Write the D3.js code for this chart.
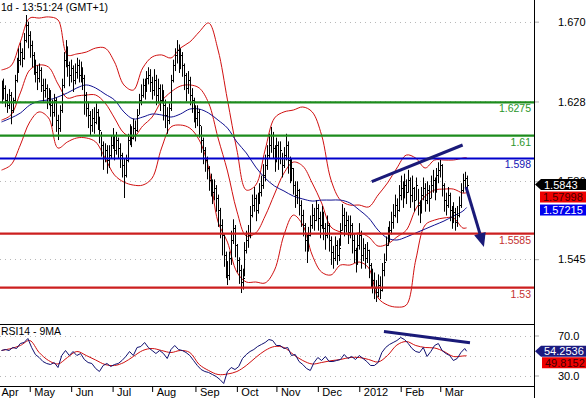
<!DOCTYPE html>
<html><head><meta charset="utf-8">
<script src="https://cdn.jsdelivr.net/npm/d3@7"></script>
<style>
html,body{margin:0;padding:0;background:#fff;}
svg{display:block;font-family:"Liberation Sans",Arial,sans-serif;}
</style></head><body>
<svg id="chart" width="586" height="398"></svg>
<script>
// ---------------- DATA ----------------
const closes = [
1.6314,1.6351,1.6288,1.6261,1.6314,1.6235,1.6288,1.6393,1.6456,1.6498,
1.6540,1.6509,1.6603,1.6682,1.6630,1.6577,1.6525,1.6488,1.6435,1.6403,
1.6446,1.6367,1.6340,1.6351,1.6298,1.6314,1.6261,1.6225,1.6288,1.6182,
1.6140,1.6235,1.6367,1.6498,1.6551,1.6472,1.6419,1.6456,1.6393,1.6435,
1.6472,1.6419,1.6446,1.6403,1.6314,1.6246,1.6209,1.6156,1.6193,1.6172,
1.6225,1.6182,1.6130,1.6051,1.5982,1.6025,1.5972,1.5998,1.6051,1.6088,
1.6025,1.6077,1.6035,1.5998,1.5946,1.5893,1.5972,1.6077,1.6119,1.6088,
1.6140,1.6130,1.6209,1.6288,1.6314,1.6367,1.6340,1.6403,1.6419,1.6382,
1.6340,1.6393,1.6314,1.6351,1.6288,1.6330,1.6261,1.6209,1.6182,1.6246,
1.6393,1.6472,1.6525,1.6551,1.6488,1.6525,1.6472,1.6419,1.6351,1.6393,
1.6314,1.6288,1.6235,1.6193,1.6225,1.6156,1.6077,1.6025,1.5972,1.5930,
1.5867,1.5840,1.5803,1.5825,1.5772,1.5709,1.5630,1.5577,1.5472,1.5419,
1.5367,1.5456,1.5551,1.5614,1.5525,1.5446,1.5393,1.5330,1.5351,1.5498,
1.5551,1.5577,1.5682,1.5735,1.5772,1.5709,1.5761,1.5803,1.5840,1.5893,
1.5946,1.5998,1.6051,1.6103,1.6035,1.5972,1.6051,1.5982,1.6025,1.5946,
1.5998,1.6051,1.5972,1.5919,1.5930,1.5840,1.5788,1.5814,1.5735,1.5682,
1.5630,1.5551,1.5509,1.5577,1.5630,1.5682,1.5656,1.5719,1.5667,1.5630,
1.5682,1.5614,1.5577,1.5630,1.5551,1.5488,1.5456,1.5525,1.5472,1.5509,
1.5603,1.5682,1.5630,1.5656,1.5593,1.5630,1.5551,1.5498,1.5435,1.5525,
1.5577,1.5472,1.5509,1.5456,1.5498,1.5419,1.5367,1.5340,1.5298,1.5277,
1.5314,1.5288,1.5393,1.5435,1.5525,1.5577,1.5603,1.5646,1.5682,1.5735,
1.5709,1.5788,1.5825,1.5788,1.5840,1.5803,1.5867,1.5788,1.5825,1.5761,
1.5840,1.5735,1.5698,1.5788,1.5825,1.5761,1.5814,1.5772,1.5840,1.5867,
1.5814,1.5893,1.5919,1.5946,1.5840,1.5761,1.5735,1.5788,1.5709,1.5667,
1.5698,1.5646,1.5682,1.5735,1.5814,1.5867,1.5877,1.5843];
const highs = [
1.6390,1.6400,1.6365,1.6320,1.6345,1.6330,1.6300,1.6420,1.6510,1.6560,
1.6590,1.6560,1.6640,1.6735,1.6700,1.6650,1.6600,1.6540,1.6500,1.6470,
1.6480,1.6460,1.6400,1.6400,1.6370,1.6350,1.6340,1.6290,1.6320,1.6300,
1.6210,1.6260,1.6400,1.6540,1.6603,1.6570,1.6490,1.6500,1.6470,1.6480,
1.6510,1.6500,1.6490,1.6460,1.6420,1.6330,1.6280,1.6230,1.6240,1.6250,
1.6270,1.6240,1.6200,1.6120,1.6070,1.6060,1.6050,1.6050,1.6100,1.6140,
1.6100,1.6120,1.6090,1.6060,1.6010,1.5980,1.6000,1.6110,1.6160,1.6150,
1.6190,1.6180,1.6240,1.6320,1.6370,1.6400,1.6400,1.6440,1.6460,1.6450,
1.6410,1.6450,1.6420,1.6400,1.6370,1.6370,1.6340,1.6290,1.6250,1.6270,
1.6420,1.6500,1.6560,1.6603,1.6580,1.6560,1.6540,1.6480,1.6430,1.6440,
1.6410,1.6350,1.6300,1.6260,1.6260,1.6240,1.6150,1.6090,1.6040,1.5990,
1.5940,1.5900,1.5870,1.5870,1.5840,1.5790,1.5720,1.5660,1.5580,1.5490,
1.5440,1.5490,1.5600,1.5660,1.5630,1.5530,1.5460,1.5420,1.5400,1.5540,
1.5600,1.5630,1.5730,1.5790,1.5830,1.5790,1.5800,1.5850,1.5890,1.5950,
1.6000,1.6050,1.6110,1.6146,1.6120,1.6050,1.6090,1.6070,1.6070,1.6010,
1.6040,1.6110,1.6070,1.5990,1.5980,1.5930,1.5860,1.5860,1.5820,1.5760,
1.5710,1.5640,1.5580,1.5620,1.5680,1.5740,1.5720,1.5760,1.5740,1.5700,
1.5730,1.5700,1.5640,1.5680,1.5640,1.5570,1.5520,1.5570,1.5550,1.5560,
1.5640,1.5740,1.5720,1.5700,1.5680,1.5680,1.5640,1.5580,1.5510,1.5580,
1.5640,1.5600,1.5560,1.5530,1.5540,1.5500,1.5430,1.5400,1.5380,1.5340,
1.5370,1.5360,1.5430,1.5480,1.5570,1.5620,1.5650,1.5700,1.5740,1.5790,
1.5770,1.5840,1.5890,1.5860,1.5900,1.5870,1.5920,1.5880,1.5890,1.5830,
1.5880,1.5820,1.5760,1.5830,1.5880,1.5850,1.5860,1.5840,1.5890,1.5920,
1.5880,1.5930,1.5960,1.5972,1.5950,1.5850,1.5800,1.5830,1.5800,1.5730,
1.5750,1.5720,1.5730,1.5780,1.5850,1.5900,1.5910,1.5890];
const lows = [
1.6270,1.6290,1.6250,1.6220,1.6240,1.6160,1.6220,1.6270,1.6380,1.6430,
1.6470,1.6460,1.6500,1.6590,1.6560,1.6510,1.6460,1.6420,1.6380,1.6340,
1.6380,1.6330,1.6280,1.6300,1.6240,1.6260,1.6200,1.6150,1.6200,1.6120,
1.6077,1.6120,1.6220,1.6350,1.6460,1.6410,1.6360,1.6380,1.6330,1.6370,
1.6400,1.6380,1.6380,1.6340,1.6210,1.6200,1.6140,1.6100,1.6120,1.6110,
1.6160,1.6130,1.6060,1.5990,1.5920,1.5960,1.5900,1.5930,1.5980,1.6030,
1.5970,1.6000,1.5980,1.5930,1.5880,1.5772,1.5880,1.5960,1.6050,1.6040,
1.6080,1.6070,1.6120,1.6210,1.6260,1.6300,1.6290,1.6330,1.6370,1.6330,
1.6290,1.6310,1.6260,1.6270,1.6230,1.6270,1.6180,1.6140,1.6110,1.6160,
1.6230,1.6380,1.6440,1.6480,1.6430,1.6450,1.6410,1.6340,1.6280,1.6320,
1.6260,1.6220,1.6170,1.6140,1.6150,1.6090,1.6010,1.5950,1.5910,1.5870,
1.5810,1.5780,1.5740,1.5760,1.5700,1.5620,1.5560,1.5470,1.5410,1.5350,
1.5314,1.5340,1.5420,1.5530,1.5460,1.5380,1.5320,1.5272,1.5290,1.5360,
1.5480,1.5510,1.5560,1.5670,1.5700,1.5650,1.5690,1.5740,1.5780,1.5820,
1.5860,1.5920,1.5980,1.6010,1.5980,1.5910,1.5960,1.5920,1.5950,1.5880,
1.5930,1.5970,1.5900,1.5850,1.5860,1.5790,1.5720,1.5740,1.5680,1.5620,
1.5570,1.5490,1.5430,1.5490,1.5570,1.5610,1.5600,1.5650,1.5600,1.5560,
1.5610,1.5550,1.5500,1.5560,1.5490,1.5420,1.5400,1.5440,1.5420,1.5440,
1.5520,1.5600,1.5570,1.5590,1.5530,1.5560,1.5480,1.5430,1.5380,1.5420,
1.5500,1.5400,1.5440,1.5400,1.5430,1.5350,1.5300,1.5270,1.5240,1.5225,
1.5250,1.5240,1.5280,1.5360,1.5440,1.5520,1.5540,1.5580,1.5610,1.5670,
1.5640,1.5700,1.5760,1.5720,1.5770,1.5740,1.5800,1.5720,1.5750,1.5700,
1.5760,1.5680,1.5640,1.5690,1.5760,1.5700,1.5740,1.5700,1.5770,1.5800,
1.5760,1.5800,1.5850,1.5880,1.5780,1.5700,1.5680,1.5720,1.5650,1.5610,
1.5640,1.5600,1.5620,1.5670,1.5720,1.5800,1.5820,1.5810];

// indicator lines, read at every 5th bar
const bandIdx = [0,5,10,15,20,25,30,35,40,45,50,55,60,65,70,75,80,85,90,95,100,105,110,115,120,125,130,135,140,145,150,155,160,165,170,175,180,185,190,195,200,205,210,215,220,225,230,235,240,245,247];
const bbUpper = [1.6446,1.6467,1.6593,1.6719,1.6719,1.6725,1.6709,1.6525,1.6530,1.6540,1.6561,1.6561,1.6488,1.6367,1.6340,1.6456,1.6514,1.6525,1.6509,1.6561,1.6593,1.6646,1.6693,1.6551,1.6288,1.6025,1.5814,1.5840,1.6025,1.6193,1.6225,1.6235,1.6251,1.6225,1.6103,1.5867,1.5761,1.5735,1.5735,1.5725,1.5788,1.5851,1.5930,1.5998,1.5982,1.5930,1.5972,1.5972,1.5972,1.5982,1.5985];
const bbMiddle = [1.6182,1.6209,1.6325,1.6446,1.6472,1.6461,1.6372,1.6298,1.6309,1.6314,1.6314,1.6272,1.6193,1.6114,1.6093,1.6151,1.6198,1.6282,1.6330,1.6361,1.6367,1.6351,1.6272,1.6088,1.5914,1.5703,1.5572,1.5588,1.5677,1.5793,1.5903,1.5961,1.5940,1.5851,1.5746,1.5619,1.5593,1.5577,1.5588,1.5567,1.5519,1.5530,1.5567,1.5603,1.5714,1.5782,1.5814,1.5819,1.5819,1.5798,1.5800];
const bbLower = [1.5919,1.5946,1.6051,1.6172,1.6225,1.6193,1.6035,1.6067,1.6088,1.6088,1.6067,1.5982,1.5893,1.5856,1.5840,1.5840,1.5877,1.6035,1.6146,1.6156,1.6140,1.6077,1.5930,1.5646,1.5540,1.5382,1.5330,1.5330,1.5325,1.5393,1.5577,1.5682,1.5630,1.5472,1.5382,1.5367,1.5419,1.5419,1.5435,1.5404,1.5246,1.5209,1.5198,1.5209,1.5446,1.5630,1.5656,1.5667,1.5667,1.5614,1.5615];
const maBlue = [1.6172,1.6193,1.6219,1.6261,1.6282,1.6288,1.6304,1.6325,1.6351,1.6367,1.6351,1.6319,1.6288,1.6225,1.6188,1.6198,1.6214,1.6209,1.6198,1.6214,1.6240,1.6240,1.6219,1.6182,1.6140,1.6067,1.6009,1.5935,1.5877,1.5835,1.5809,1.5782,1.5767,1.5756,1.5761,1.5761,1.5761,1.5746,1.5709,1.5667,1.5603,1.5561,1.5551,1.5567,1.5588,1.5609,1.5630,1.5651,1.5677,1.5703,1.5722];

// RSI(14) read at every 2nd bar, last bar appended
const rsiIdx = [];
for (let k = 0; k <= 246; k += 2) rsiIdx.push(k);
rsiIdx.push(247);
const rsi14 = [55,56,55,58,57,62,63,67,58,51,48,44,42,41,43,38,50,55,50,54,50,52,46,43,42,37,34,40,42,39,41,42,45,49,54,50,58,59,63,58,55,52,55,52,47,56,60,56,55,53,50,45,40,36,34,33,31,29,26,22,34,38,36,39,47,51,54,56,59,61,63,66,65,60,60,57,58,50,51,44,41,37,35,43,48,45,49,44,44,45,46,51,47,49,46,50,47,44,40,40,43,53,58,61,63,65,68,66,62,57,54,53,58,49,54,60,62,55,52,50,45,47,53,57,54.25];
const rsiMA9 = [55,57,60,65,53,45,41.5,48,54,50,45.5,41,40,43,49,55,57,55,53,55,53,41,35,31,31.5,34,40,48,55,59,58,51,45,41.5,43,44.8,46,48,48,46,43.5,50,60.5,64,60,58,57.5,54,49,49.5,49.8];

const monthIdx = [-6,15,37,59,80,103,125,146,168,190,212,233];
const monthLabels = ["Apr","May","Jun","Jul","Aug","Sep","Oct","Nov","Dec","2012","Feb","Mar"];
const priceTicks = [1.670,1.628,1.586,1.545];
const priceTickLabels = ["1.670","1.628","1.586","1.545"];
const rsiTicks = [70,30];
const rsiGrid = [70,50,30];
const levelValues = [1.6275,1.61,1.598,1.5585,1.53];
const levelLabels = ["1.6275","1.61","1.598","1.5585","1.53"];
const lastValues = {close:1.5843, mid:1.57998, ma:1.57215, rsi:54.2536, rsiMA:49.8152};
const priceTrend = [[196.6,1.5858],[244.9,1.6051]];
const arrowLine = [[246.7,1.5830],[256.2,1.5514]];
const rsiTrend = [[203.1,74],[248.8,62.8]];

// ---------------- DRAW ----------------
const svg = d3.select("#chart");
const AX = 534;
const x = d3.scaleLinear().domain([0,247]).range([1.5,466.6]);
const y = d3.scaleLinear().domain([1.5109,1.6814]).range([324,0]);
const r = d3.scaleLinear().domain([20,81]).range([385.5,324.5]);
const levelColors = ["#1d8c1d","#1d8c1d","#0000cc","#cc1f1f","#cc1f1f"];
const levelText = ["#2a962a","#2a962a","#1414b4","#c43030","#c43030"];

svg.append("rect").attr("width",586).attr("height",398).attr("fill","#fff");

// grid
svg.append("g").selectAll("line").data(priceTicks).join("line")
  .attr("x1",0).attr("x2",AX).attr("y1",d=>Math.round(y(d))+0.5).attr("y2",d=>Math.round(y(d))+0.5)
  .attr("stroke","#b8b8b8").attr("stroke-dasharray","1,4");
svg.append("g").selectAll("line").data(rsiGrid).join("line")
  .attr("x1",0).attr("x2",AX).attr("y1",d=>Math.round(r(d))+0.5).attr("y2",d=>Math.round(r(d))+0.5)
  .attr("stroke","#b8b8b8").attr("stroke-dasharray","1,4");

// header
svg.append("text").attr("x",1).attr("y",11).attr("font-size",10.5).attr("fill","#000").text("1d - 13:51:24 (GMT+1)");

// price panel clip
svg.append("clipPath").attr("id","pclip").append("rect").attr("x",0).attr("y",0).attr("width",AX).attr("height",324);
const pg = svg.append("g").attr("clip-path","url(#pclip)");

const lineGen = (vals)=> d3.line().x((d,i)=>x(bandIdx[i])).y(d=>y(d)).curve(d3.curveCatmullRom.alpha(0.5))(vals);
[bbUpper,bbMiddle,bbLower].forEach(arr=>{
  pg.append("path").attr("d",lineGen(arr)).attr("fill","none").attr("stroke","#d01010").attr("stroke-width",1);
});
pg.append("path").attr("d",lineGen(maBlue)).attr("fill","none").attr("stroke","#101090").attr("stroke-width",1);

// OHLC bars
const bars = pg.append("g").attr("stroke","#000").attr("stroke-width",1);
closes.forEach((c,i)=>{
  const xi = Math.round(x(i))+0.5;
  bars.append("line").attr("x1",xi).attr("x2",xi).attr("y1",y(highs[i])).attr("y2",y(lows[i]));
  const yc = Math.round(y(c))+0.5;
  bars.append("line").attr("x1",xi).attr("x2",xi+1.5).attr("y1",yc).attr("y2",yc);
});

// horizontal levels
levelValues.forEach((v,i)=>{
  pg.append("line").attr("x1",0).attr("x2",AX).attr("y1",y(v)).attr("y2",y(v))
    .attr("stroke",levelColors[i]).attr("stroke-width",2.2);
  svg.append("text").attr("x",AX-3).attr("y",y(v)+10).attr("text-anchor","end")
    .attr("font-size",10.5).attr("fill",levelText[i]).text(levelLabels[i]);
});

// trend line & arrow
const navy = "#1a1a78";
pg.append("line").attr("x1",x(priceTrend[0][0])).attr("y1",y(priceTrend[0][1]))
  .attr("x2",x(priceTrend[1][0])).attr("y2",y(priceTrend[1][1]))
  .attr("stroke",navy).attr("stroke-width",3);
{
  const x1=x(arrowLine[0][0]), y1=y(arrowLine[0][1]), x2=x(arrowLine[1][0]), y2=y(arrowLine[1][1]);
  const dx=x2-x1, dy=y2-y1, L=Math.hypot(dx,dy), ux=dx/L, uy=dy/L;
  const hl=14, hw=6;
  const bx=x2-ux*hl, by=y2-uy*hl;
  pg.append("line").attr("x1",x1).attr("y1",y1).attr("x2",bx).attr("y2",by).attr("stroke",navy).attr("stroke-width",3);
  pg.append("path").attr("d",`M${x2},${y2}L${bx-uy*hw},${by+ux*hw}L${bx+uy*hw},${by-ux*hw}Z`).attr("fill",navy);
}

// RSI panel
svg.append("line").attr("x1",0).attr("x2",AX).attr("y1",324.5).attr("y2",324.5).attr("stroke","#000");
svg.append("text").attr("x",1).attr("y",335).attr("font-size",10.5).attr("fill","#000").text("RSI14 - 9MA");
const rg = svg.append("g");
rg.append("path").attr("d",d3.line().x((d,i)=>x(bandIdx[i])).y(d=>r(d)).curve(d3.curveCatmullRom.alpha(0.5))(rsiMA9))
  .attr("fill","none").attr("stroke","#d01010").attr("stroke-width",1);
rg.append("path").attr("d",d3.line().x((d,i)=>x(rsiIdx[i])).y(d=>r(d))(rsi14))
  .attr("fill","none").attr("stroke","#101070").attr("stroke-width",1);
rg.append("line").attr("x1",x(rsiTrend[0][0])).attr("y1",r(rsiTrend[0][1]))
  .attr("x2",x(rsiTrend[1][0])).attr("y2",r(rsiTrend[1][1])).attr("stroke",navy).attr("stroke-width",3);

// axes
const yAxis = svg.append("g").attr("transform",`translate(${AX},0)`)
  .call(d3.axisRight(y).tickValues(priceTicks).tickFormat((d,i)=>priceTickLabels[i]).tickSize(5).tickPadding(19));
const rAxis = svg.append("g").attr("transform",`translate(${AX},0)`)
  .call(d3.axisRight(r).tickValues(rsiTicks).tickFormat(d3.format(".1f")).tickSize(5).tickPadding(19));
[yAxis,rAxis].forEach(g=>{
  g.select(".domain").remove();
  g.selectAll(".tick line").attr("stroke","#aaa");
  g.selectAll(".tick text").attr("font-size",11).attr("font-family","Liberation Sans, Arial, sans-serif").attr("fill","#000");
});
const xAxis = svg.append("g").attr("transform","translate(0,386)")
  .call(d3.axisBottom(x).tickValues(monthIdx).tickFormat((d,i)=>monthLabels[i]).tickSize(6));
xAxis.select(".domain").remove();
xAxis.selectAll(".tick line").attr("stroke","#000");
xAxis.selectAll(".tick text").attr("font-size",11).attr("font-family","Liberation Sans, Arial, sans-serif")
  .attr("fill","#000").attr("text-anchor","start").attr("y",2)
  .attr("x",d=>Math.max(4, 1-x(d)));
svg.append("line").attr("x1",0).attr("x2",AX).attr("y1",386.5).attr("y2",386.5).attr("stroke","#000");
svg.append("line").attr("x1",AX+0.5).attr("x2",AX+0.5).attr("y1",0).attr("y2",398).attr("stroke","#000");

// last value tags
function tag(yc, fill, txtFill, txt, pointer, x0){
  const g = svg.append("g");
  const top = yc-5.5, bot = yc+5.5;
  if (pointer){
    g.append("path").attr("d",`M${AX+1},${yc}L${AX+7},${top}L${586},${top}L${586},${bot}L${AX+7},${bot}Z`).attr("fill",fill);
  } else {
    g.append("rect").attr("x",x0).attr("y",top).attr("width",586-x0).attr("height",11).attr("fill",fill);
  }
  g.append("text").attr("x",pointer?AX+10:x0+3).attr("y",yc+4).attr("font-size",11).attr("fill",txtFill).text(txt);
}
tag(y(lastValues.close), "#000", "#fff", d3.format(".4f")(lastValues.close), true);
tag(y(lastValues.close)+12.5, "#ee0000", "#400", d3.format(".5f")(lastValues.mid), false, 540);
tag(y(lastValues.close)+25.5, "#0000ee", "#fff", d3.format(".5f")(lastValues.ma), false, 540);
tag(r(lastValues.rsi), "#1a1a80", "#fff", d3.format(".4f")(lastValues.rsi), true);
tag(r(lastValues.rsi)+11.5, "#ee0000", "#400", d3.format(".4f")(lastValues.rsiMA), false, 542);
</script>
</body></html>
